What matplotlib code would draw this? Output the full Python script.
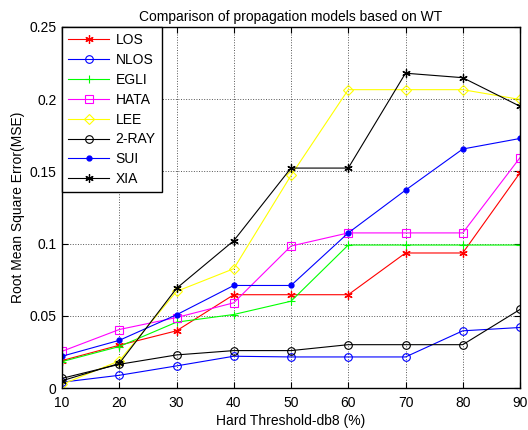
import numpy as np
import matplotlib
matplotlib.use("Agg")
import matplotlib.pyplot as plt

plt.rcParams['font.family'] = ['Liberation Sans', 'DejaVu Sans']

thresh = [10, 20, 30, 40, 50, 60, 70, 80, 90]
los = [0.019, 0.0296, 0.0396, 0.0646, 0.0646, 0.0646, 0.0935, 0.0935, 0.149]
nlos = [0.004, 0.0088, 0.0153, 0.022, 0.0215, 0.0215, 0.0215, 0.0396, 0.0419]
egli = [0.0183, 0.0287, 0.0456, 0.0509, 0.0601, 0.099, 0.099, 0.099, 0.099]
hata = [0.0254, 0.0405, 0.0488, 0.059, 0.0983, 0.1074, 0.1074, 0.1074, 0.1595]
lee = [0.0025, 0.0188, 0.0669, 0.0826, 0.1472, 0.2066, 0.2066, 0.2066, 0.1998]
ray2 = [0.0067, 0.0164, 0.0229, 0.0259, 0.0259, 0.030, 0.030, 0.030, 0.0544]
sui = [0.022, 0.033, 0.0507, 0.071, 0.071, 0.1074, 0.137, 0.1655, 0.1728]
xia = [0.005, 0.017, 0.069, 0.102, 0.1523, 0.1523, 0.218, 0.2149, 0.1951]

fig = plt.figure(figsize=(5.28, 4.30), dpi=100)
ax = fig.add_axes([62/528, 1-388/430, 458/528, 361/430])

lw = 0.8
ast = (6, 2, 0)  # asterisk like matlab '*'
ax.plot(thresh, los, color='red', marker=ast, ms=6, mew=0.9, lw=lw, label='LOS')
ax.plot(thresh, nlos, color='blue', marker='o', mfc='none', ms=5.5, mew=0.8, lw=lw, label='NLOS')
ax.plot(thresh, egli, color='#00ff00', marker='+', ms=6, mew=0.8, lw=lw, label='EGLI')
ax.plot(thresh, hata, color='magenta', marker='s', mfc='none', ms=5.5, mew=0.8, lw=lw, label='HATA')
ax.plot(thresh, lee, color='yellow', marker='D', mfc='none', ms=5, mew=0.8, lw=lw, label='LEE')
ax.plot(thresh, ray2, color='black', marker='o', mfc='none', ms=5.5, mew=0.8, lw=lw, label='2-RAY')
ax.plot(thresh, sui, color='blue', marker='.', ms=7, lw=lw, label='SUI')
ax.plot(thresh, xia, color='black', marker=ast, ms=6, mew=0.9, lw=lw, label='XIA')

ax.set_xlim(10, 90)
ax.set_ylim(0, 0.25)
ax.set_xticks(thresh)
ax.set_yticks([0, 0.05, 0.1, 0.15, 0.2, 0.25])
ax.set_yticklabels(['0', '0.05', '0.1', '0.15', '0.2', '0.25'])
ax.tick_params(direction='in', labelsize=10, length=4, top=True, right=True)
ax.tick_params(axis='x', pad=6)
ax.tick_params(axis='y', pad=4)
ax.grid(True, linestyle=':', color='#555555', lw=0.7)
for s in ax.spines.values():
    s.set_linewidth(1.0)

ax.set_title('Comparison of propagation models based on WT', fontsize=10, pad=4)
ax.set_xlabel('Hard Threshold-db8 (%)', fontsize=10, labelpad=3)
ax.set_ylabel('Root Mean Square Error(MSE)', fontsize=10, labelpad=3)

leg = ax.legend(loc='upper left', fontsize=10, fancybox=False, framealpha=1,
                edgecolor='black', borderaxespad=0, handlelength=2.95,
                handletextpad=0.45, labelspacing=0.42, borderpad=0.45)
leg.get_frame().set_linewidth(1.0)

fig.savefig('out.png', dpi=100)
